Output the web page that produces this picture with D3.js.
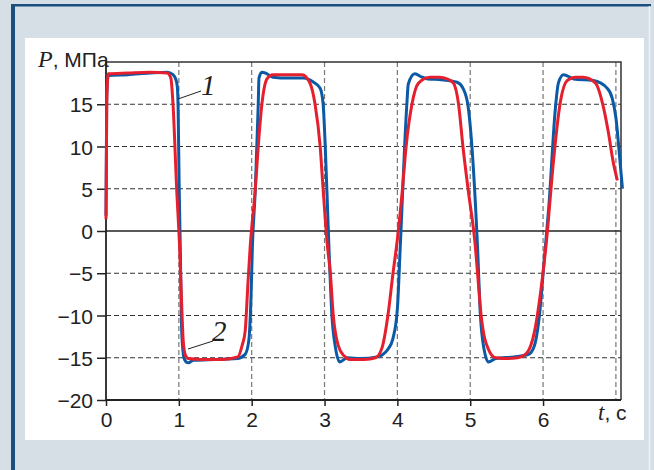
<!DOCTYPE html>
<html>
<head>
<meta charset="utf-8">
<script src="https://cdn.jsdelivr.net/npm/d3@7"></script>
<style>
  body { margin: 0; background: #fff; }
  svg { display: block; }
  .tick text { font-family: "Liberation Sans Narrow", "Liberation Sans", Arial, sans-serif; font-size: 21px; fill: #222; }
</style>
</head>
<body>
<svg id="chart" width="654" height="470"></svg>
<script>
// time, s and pressure, MPa
var tBlue = [0, 0.01, 0.03, 0.3, 0.6, 0.84, 0.92, 0.96, 0.98, 0.99, 1.005, 1.02, 1.04, 1.07, 1.1, 1.13, 1.2, 1.5, 1.8, 1.91, 1.96, 1.99,
             2.01, 2.05, 2.07, 2.09, 2.1, 2.14, 2.21, 2.29, 2.5, 2.71, 2.85, 2.94, 2.98, 3.01, 3.06, 3.1, 3.15, 3.21, 3.31, 3.5,
             3.72, 3.87, 3.94, 4.0, 4.04, 4.13, 4.15, 4.24, 4.34, 4.42, 4.6, 4.82, 4.9, 4.97, 5.1, 5.14, 5.19, 5.25, 5.35, 5.6,
             5.8, 5.88, 5.95, 6.02, 6.08, 6.17, 6.21, 6.28, 6.42, 6.69, 6.88, 6.95, 7.0, 7.06, 7.09];
var pBlue = [1.8, 16, 18.4, 18.5, 18.7, 18.8, 18.5, 17.9, 17.0, 14.5, 5, -2, -12, -15.0, -15.5, -15.6, -15.3, -15.2, -15.1, -14.6, -13, -8,
             -1.8, 5, 10, 15, 18.1, 18.8, 18.6, 18.2, 18.1, 18.1, 17.6, 16.9, 15.1, 10, -1.8, -9.8, -13.8, -15.5, -15.0, -15.1,
             -14.9, -14.0, -12.7, -9.2, -1.8, 15, 17.4, 18.6, 18.2, 18.0, 17.9, 17.6, 16.9, 14.8, -1.8, -10, -14, -15.5, -15.1, -14.9,
             -14.6, -13.6, -10, -3, 3, 14.6, 17.5, 18.5, 18.0, 17.8, 16.9, 15.7, 13.4, 7.9, 5.0];

var tRed = [0, 0.01, 0.03, 0.3, 0.6, 0.84, 0.89, 0.92, 0.97, 1.01, 1.04, 1.06, 1.09, 1.13, 1.3, 1.6, 1.81, 1.87, 1.91, 1.95, 1.98,
            2.05, 2.09, 2.14, 2.21, 2.29, 2.5, 2.69, 2.8, 2.87, 2.94, 2.98, 3.04, 3.08, 3.12, 3.19, 3.27, 3.35, 3.55, 3.7, 3.79,
            3.87, 3.94, 4.0, 4.07, 4.12, 4.2, 4.29, 4.45, 4.58, 4.68, 4.77, 4.84, 4.9, 4.97, 5.07, 5.11, 5.15, 5.25, 5.35, 5.5,
            5.65, 5.78, 5.88, 5.97, 6.06, 6.13, 6.24, 6.33, 6.45, 6.55, 6.72, 6.83, 6.9, 6.96, 7.02];
var pRed = [1.4, 15, 18.6, 18.7, 18.8, 18.7, 18.1, 15, 5, -1.8, -9, -13, -14.7, -15.1, -15.2, -15.2, -14.9, -13.5, -11.9, -6, -1.8,
            5, 10, 15, 18.0, 18.5, 18.5, 18.5, 17.5, 15, 10, 5, -1.8, -5, -10, -13.6, -14.8, -15.2, -15.2, -15.0, -13.8,
            -10, -5, -1.0, 5, 10, 15, 17.5, 18.2, 18.2, 18.0, 17.5, 15, 10, 5, -1.8, -6, -10, -14, -15.0, -15.1,
            -15.0, -14.4, -12, -7, 0, 7.1, 15.4, 17.8, 18.2, 18.2, 17.5, 14.6, 11.5, 8.3, 6.0];

var xTickVals = [0, 1, 2, 3, 4, 5, 6];
var xGridVals = [1, 2, 3, 4, 5, 6, 7];
var yTickVals = [-20, -15, -10, -5, 0, 5, 10, 15];
var yGridVals = [-15, -10, -5, 5, 10, 15];

var svg = d3.select("#chart");

// panel
svg.append("rect").attr("x", 0).attr("y", 0).attr("width", 654).attr("height", 470).attr("fill", "#d6dee6");
svg.append("rect").attr("x", 11).attr("y", 4).attr("width", 640).attr("height", 2.5).attr("fill", "#1d4f7e");
svg.append("rect").attr("x", 11).attr("y", 4).attr("width", 4).attr("height", 466).attr("fill", "#1d4f7e");
svg.append("line").attr("x1", 649.5).attr("x2", 649.5).attr("y1", 6).attr("y2", 470)
   .attr("stroke", "#eef2f6").attr("stroke-width", 1.5);
svg.append("rect").attr("x", 25).attr("y", 38).attr("width", 619).attr("height", 402).attr("fill", "#fff");

var x = d3.scaleLinear().domain([0, 7.07]).range([106, 621]);
var y = d3.scaleLinear().domain([-20, 20]).range([400, 62]);

// grid
svg.selectAll("line.hgrid")
   .data(yGridVals)
   .enter()
   .append("line")
   .attr("class", "hgrid")
   .attr("x1", x(0)).attr("x2", x(7.07))
   .attr("y1", function(d) { return y(d); })
   .attr("y2", function(d) { return y(d); })
   .attr("stroke", "#333")
   .attr("stroke-width", 1)
   .attr("stroke-dasharray", "5,3");

svg.selectAll("line.vgrid")
   .data(xGridVals)
   .enter()
   .append("line")
   .attr("class", "vgrid")
   .attr("x1", function(d) { return x(d); })
   .attr("x2", function(d) { return x(d); })
   .attr("y1", y(20)).attr("y2", y(-20))
   .attr("stroke", "#777")
   .attr("stroke-width", 1.2)
   .attr("stroke-dasharray", "5,3");

// zero line and frame
svg.append("line").attr("x1", x(0)).attr("x2", x(7.07)).attr("y1", y(0)).attr("y2", y(0))
   .attr("stroke", "#222").attr("stroke-width", 1.5);
svg.append("path")
   .attr("d", "M" + x(0) + "," + y(20) + "H" + x(7.07) + "V" + y(-20))
   .attr("fill", "none").attr("stroke", "#333").attr("stroke-width", 1.5);

// axes
var yAxis = d3.axisLeft(y).tickValues(yTickVals).tickSize(9).tickPadding(4)
   .tickFormat(function(d) { return d < 0 ? "\u2212" + Math.abs(d) : d; });
var gy = svg.append("g").attr("transform", "translate(" + x(0) + ",0)").call(yAxis);

var xAxis = d3.axisBottom(x).tickValues(xTickVals).tickSize(6).tickPadding(6)
   .tickFormat(d3.format("d"));
var gx = svg.append("g").attr("transform", "translate(0," + y(-20) + ")").call(xAxis);

[gx, gy].forEach(function(g) {
  g.select(".domain").attr("stroke", "#222").attr("stroke-width", 1.8);
  g.selectAll(".tick line").attr("stroke", "#222").attr("stroke-width", 1.5);
});
gx.select(".domain").attr("d", "M" + x(0) + ",0H" + x(7.07));
gy.select(".domain").attr("d", "M0," + y(-20) + "V" + y(20));
gy.selectAll(".tick text").attr("dy", "0.36em");

// curves
var line = d3.line()
   .x(function(d) { return x(d[0]); })
   .y(function(d) { return y(d[1]); })
   .curve(d3.curveMonotoneX);

svg.append("path")
   .datum(d3.zip(tBlue, pBlue))
   .attr("d", line)
   .attr("fill", "none")
   .attr("stroke", "#0b5aa6")
   .attr("stroke-width", 3)
   .attr("stroke-linejoin", "round");

svg.append("path")
   .datum(d3.zip(tRed, pRed))
   .attr("d", line)
   .attr("fill", "none")
   .attr("stroke", "#e5202e")
   .attr("stroke-width", 3)
   .attr("stroke-linejoin", "round");

// callouts
svg.append("line").attr("x1", 178).attr("y1", 99).attr("x2", 201).attr("y2", 91).attr("stroke", "#222").attr("stroke-width", 1);
svg.append("line").attr("x1", 188).attr("y1", 349).attr("x2", 213).attr("y2", 341).attr("stroke", "#222").attr("stroke-width", 1);

svg.append("text").attr("x", 201).attr("y", 95)
   .attr("font-family", "Liberation Serif, serif").attr("font-style", "italic")
   .attr("font-size", "29px").attr("fill", "#222").text("1");
svg.append("text").attr("x", 212).attr("y", 341)
   .attr("font-family", "Liberation Serif, serif").attr("font-style", "italic")
   .attr("font-size", "29px").attr("fill", "#222").text("2");

// axis titles
var yTitle = svg.append("text").attr("x", 38).attr("y", 67).attr("font-size", "21px").attr("fill", "#222");
yTitle.append("tspan").attr("font-family", "Liberation Serif, serif").attr("font-style", "italic").attr("font-size", "24px").text("P");
yTitle.append("tspan").attr("font-family", "Liberation Sans Narrow, Liberation Sans, sans-serif").text(", МПа");

var xTitle = svg.append("text").attr("x", 598).attr("y", 420).attr("font-size", "21px").attr("fill", "#222");
xTitle.append("tspan").attr("font-family", "Liberation Serif, serif").attr("font-style", "italic").attr("font-size", "23px").text("t");
xTitle.append("tspan").attr("font-family", "Liberation Sans Narrow, Liberation Sans, sans-serif").text(", с");
</script>
</body>
</html>
